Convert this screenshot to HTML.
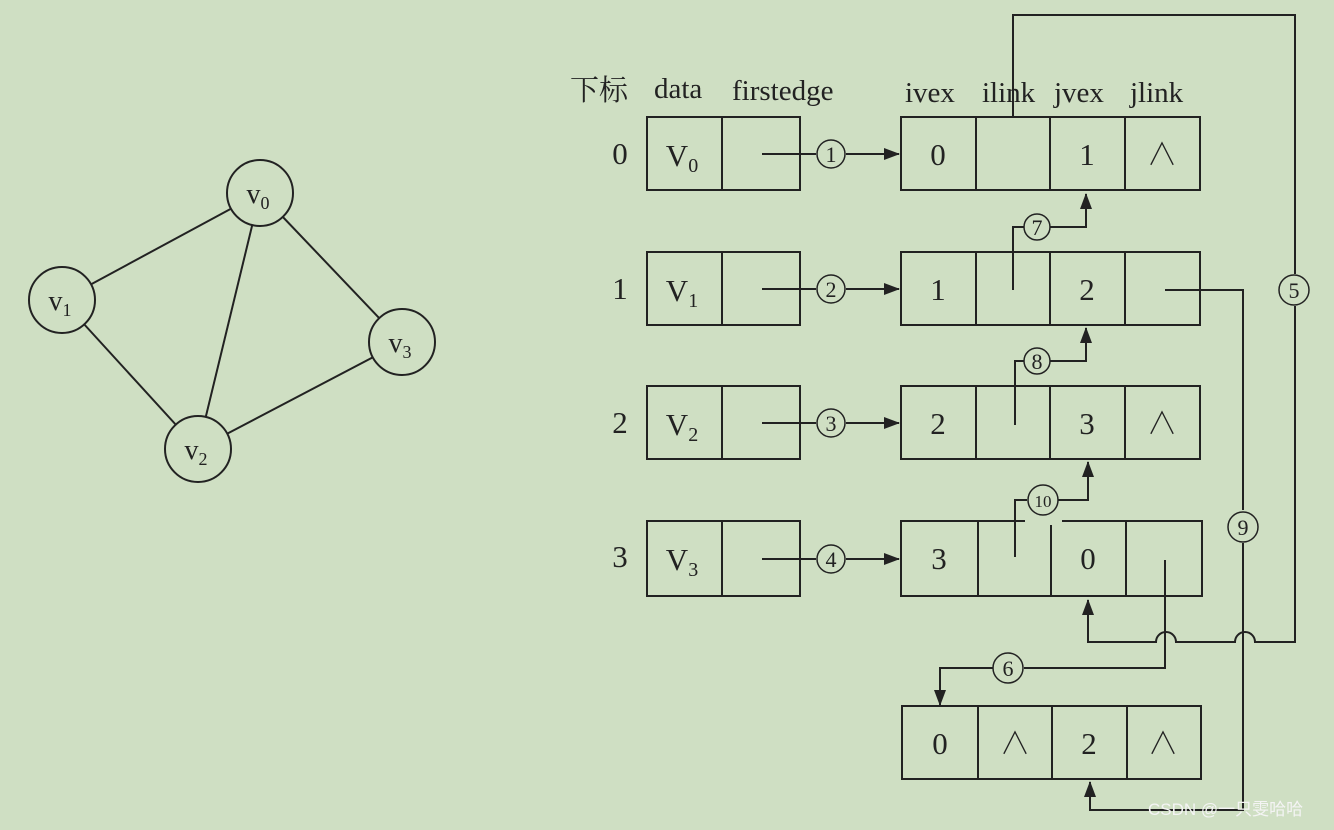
<!DOCTYPE html>
<html><head><meta charset="utf-8"><style>
body{margin:0;background:#cfdfc3;}
svg{display:block}
text{font-family:"Liberation Serif","Noto Serif CJK SC",serif;fill:#222;}
</style></head><body>
<svg width="1334" height="830" viewBox="0 0 1334 830" xmlns="http://www.w3.org/2000/svg">
<defs><marker id="a" markerWidth="10" markerHeight="10" refX="9" refY="5" orient="auto" markerUnits="userSpaceOnUse"><path d="M0,0 L10,5 L0,10z" fill="#222"/></marker>
<marker id="b" markerWidth="16" markerHeight="12" refX="15" refY="6" orient="auto" markerUnits="userSpaceOnUse"><path d="M0,0 L16,6 L0,12z" fill="#222"/></marker></defs>
<g stroke="#222" stroke-width="2" fill="none">
<line x1="260" y1="193" x2="62" y2="300"/><line x1="260" y1="193" x2="198" y2="449"/><line x1="260" y1="193" x2="402" y2="342"/><line x1="62" y1="300" x2="198" y2="449"/><line x1="198" y1="449" x2="402" y2="342"/>
</g>
<g stroke="#222" stroke-width="2" fill="#cfdfc3">
<circle cx="260" cy="193" r="33"/><circle cx="62" cy="300" r="33"/><circle cx="402" cy="342" r="33"/><circle cx="198" cy="449" r="33"/>
</g>
<g font-size="28" text-anchor="middle">
<text x="258" y="203">v<tspan font-size="18" dy="6">0</tspan></text>
<text x="60" y="310">v<tspan font-size="18" dy="6">1</tspan></text>
<text x="400" y="352">v<tspan font-size="18" dy="6">3</tspan></text>
<text x="196" y="459">v<tspan font-size="18" dy="6">2</tspan></text>
</g>
<g font-size="29">
<text x="570" y="100">下标</text><text x="654" y="98">data</text><text x="732" y="100">firstedge</text>
<text x="905" y="102">ivex</text><text x="982" y="102">ilink</text><text x="1054" y="102">jvex</text><text x="1130" y="102">jlink</text>
</g>
<g stroke="#222" stroke-width="2" fill="none">
<rect x="647" y="117" width="153" height="73"/><line x1="722" y1="117" x2="722" y2="190"/>
<rect x="647" y="252" width="153" height="73"/><line x1="722" y1="252" x2="722" y2="325"/>
<rect x="647" y="386" width="153" height="73"/><line x1="722" y1="386" x2="722" y2="459"/>
<rect x="647" y="521" width="153" height="75"/><line x1="722" y1="521" x2="722" y2="596"/>
<rect x="901" y="117" width="299" height="73"/><line x1="976" y1="117" x2="976" y2="190"/><line x1="1050" y1="117" x2="1050" y2="190"/><line x1="1125" y1="117" x2="1125" y2="190"/>
<rect x="901" y="252" width="299" height="73"/><line x1="976" y1="252" x2="976" y2="325"/><line x1="1050" y1="252" x2="1050" y2="325"/><line x1="1125" y1="252" x2="1125" y2="325"/>
<rect x="901" y="386" width="299" height="73"/><line x1="976" y1="386" x2="976" y2="459"/><line x1="1050" y1="386" x2="1050" y2="459"/><line x1="1125" y1="386" x2="1125" y2="459"/>
<path d="M1025,521 H901 V596 H1202 V521 H1062"/><line x1="978" y1="521" x2="978" y2="596"/><line x1="1051" y1="525" x2="1051" y2="596"/><line x1="1126" y1="521" x2="1126" y2="596"/>
<rect x="902" y="706" width="299" height="73"/><line x1="978" y1="706" x2="978" y2="779"/><line x1="1052" y1="706" x2="1052" y2="779"/><line x1="1127" y1="706" x2="1127" y2="779"/>
<!-- firstedge arrows -->
<path d="M762,154 H816 M846,154 H899" marker-end="url(#b)"/>
<path d="M762,289 H816 M846,289 H899" marker-end="url(#b)"/>
<path d="M762,423 H816 M846,423 H899" marker-end="url(#b)"/>
<path d="M762,559 H816 M846,559 H899" marker-end="url(#b)"/>
<!-- 7,8,10 -->
<path d="M1013,290 V227 H1024 M1050,227 H1086 V194" marker-end="url(#b)"/>
<path d="M1015,425 V361 H1024 M1050,361 H1086 V328" marker-end="url(#b)"/>
<path d="M1015,557 V500 H1027 M1058,500 H1088 V462" marker-end="url(#b)"/>
<!-- 5 -->
<path d="M1013,117 V15 H1295 V274 M1295,306 V642 H1255 a10,10 0 0 0 -20,0 H1176 a10,10 0 0 0 -20,0 H1088 V600" marker-end="url(#b)"/>
<!-- 9 -->
<path d="M1165,290 H1243 V510 M1243,543 V810 H1090 V782" marker-end="url(#b)"/>
<!-- 6 -->
<path d="M1165,560 V668 H1024 M993,668 H940 V705" marker-end="url(#b)"/>
</g>
<g stroke="#222" stroke-width="1.5" fill="#cfdfc3">
<circle cx="831" cy="154" r="14"/><circle cx="831" cy="289" r="14"/><circle cx="831" cy="423" r="14"/><circle cx="831" cy="559" r="14"/>
<circle cx="1037" cy="227" r="13"/><circle cx="1037" cy="361" r="13"/><circle cx="1043" cy="500" r="15"/>
<circle cx="1294" cy="290" r="15"/><circle cx="1243" cy="527" r="15"/><circle cx="1008" cy="668" r="15"/>
</g>
<g font-size="22" text-anchor="middle">
<text x="831" y="162">1</text><text x="831" y="297">2</text><text x="831" y="431">3</text><text x="831" y="567">4</text>
<text x="1037" y="235">7</text><text x="1037" y="369">8</text><text x="1043" y="507" font-size="17">10</text>
<text x="1294" y="298">5</text><text x="1243" y="535">9</text><text x="1008" y="676">6</text>
</g>
<g font-size="31" text-anchor="middle">
<text x="620" y="164">0</text><text x="620" y="299">1</text><text x="620" y="433">2</text><text x="620" y="567">3</text>
<text x="682" y="166">V<tspan font-size="20" dy="6">0</tspan></text>
<text x="682" y="301">V<tspan font-size="20" dy="6">1</tspan></text>
<text x="682" y="435">V<tspan font-size="20" dy="6">2</tspan></text>
<text x="682" y="570">V<tspan font-size="20" dy="6">3</tspan></text>
<text x="938" y="165">0</text><text x="1087" y="165">1</text><text x="1162" y="165">∧</text>
<text x="938" y="300">1</text><text x="1087" y="300">2</text>
<text x="938" y="434">2</text><text x="1087" y="434">3</text><text x="1162" y="434">∧</text>
<text x="939" y="569">3</text><text x="1088" y="569">0</text>
<text x="940" y="754">0</text><text x="1015" y="754">∧</text><text x="1089" y="754">2</text><text x="1163" y="754">∧</text>
</g>
<text x="1148" y="815" font-size="17" fill="#fff" style="font-family:'Liberation Sans','Noto Sans CJK SC',sans-serif;fill:#f4f4f4">CSDN @一只雯哈哈</text>
</svg>
</body></html>
